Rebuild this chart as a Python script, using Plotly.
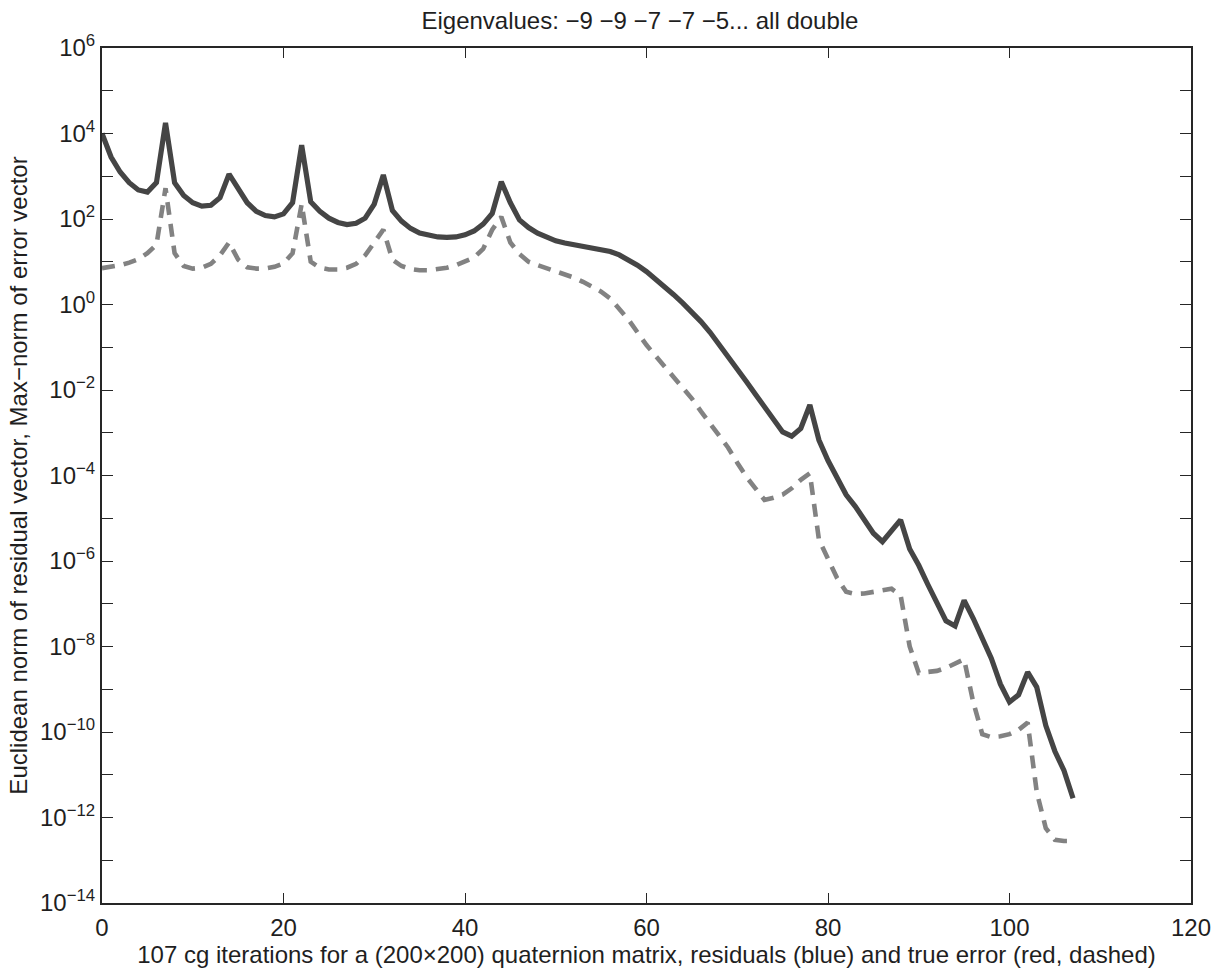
import plotly.graph_objects as go

# Iteration index
iterations = list(range(0, 108))

# log10 of Euclidean norm of residual vector (solid)
residual_log10 = [
    4.0, 3.45, 3.1, 2.85, 2.68, 2.63, 2.85, 4.25, 2.85, 2.55,
    2.38, 2.3, 2.32, 2.5, 3.05, 2.72, 2.38, 2.18, 2.08, 2.05,
    2.12, 2.38, 3.73, 2.4, 2.18, 2.02, 1.92, 1.87, 1.9, 2.02,
    2.35, 3.03, 2.2, 1.95, 1.78, 1.67, 1.61, 1.58, 1.57, 1.58,
    1.63, 1.72, 1.88, 2.13, 2.87, 2.38, 1.98, 1.8, 1.67, 1.57,
    1.49, 1.44, 1.40, 1.36, 1.33, 1.29, 1.24, 1.16, 1.05, 0.92,
    0.77, 0.6, 0.42, 0.23, 0.03, -0.18, -0.4, -0.65, -0.93, -1.2,
    -1.5, -1.8, -2.1, -2.4, -2.7, -2.98, -3.08, -2.9, -2.35, -3.17,
    -3.65, -4.05, -4.45, -4.72, -5.05, -5.35, -5.55, -5.3, -5.04, -5.72,
    -6.1, -6.55, -6.98, -7.4, -7.52, -6.92, -7.34, -7.78, -8.28, -8.88,
    -9.3, -9.13, -8.6, -8.95, -9.85, -10.45, -10.9, -11.55,
]

# log10 of max-norm of true error vector (dashed)
error_log10 = [
    0.85, 0.88, 0.92, 0.98, 1.06, 1.2, 1.4, 2.72, 1.2, 0.9,
    0.84, 0.86, 0.95, 1.15, 1.45, 1.05, 0.87, 0.84, 0.84, 0.88,
    0.96, 1.2, 2.35, 1.0, 0.86, 0.82, 0.82, 0.86, 0.95, 1.15,
    1.45, 1.75, 1.05, 0.9, 0.83, 0.8, 0.8, 0.82, 0.86, 0.92,
    1.0, 1.1, 1.3, 1.75, 2.05, 1.45, 1.18, 1.0, 0.92, 0.85,
    0.78, 0.72, 0.63, 0.53, 0.42, 0.3, 0.14, -0.1, -0.35, -0.65,
    -0.95, -1.2, -1.45, -1.7, -1.95, -2.2, -2.5, -2.78, -3.08, -3.35,
    -3.7, -4.03, -4.3, -4.57, -4.52, -4.45, -4.3, -4.1, -3.95, -5.5,
    -5.95, -6.4, -6.72, -6.77, -6.76, -6.72, -6.7, -6.65, -6.8, -8.0,
    -8.62, -8.6, -8.57, -8.5, -8.4, -8.3, -9.3, -10.05, -10.12, -10.1,
    -10.05, -9.95, -9.78, -11.4, -12.25, -12.52, -12.55, -12.55,
]

residual = [10 ** v for v in residual_log10]
error = [10 ** v for v in error_log10]

y_exponents = list(range(-14, 7))
y_tickvals = [10 ** e for e in y_exponents]
y_ticktext = [("10<sup>%s</sup>" % (str(e).replace("-", "\u2212")) if e % 2 == 0 else "") for e in y_exponents]
x_tickvals = [0, 20, 40, 60, 80, 100, 120]

title_text = "Eigenvalues: \u22129 \u22129 \u22127 \u22127 \u22125... all double"
x_label = "107 cg iterations for a (200\u00d7200) quaternion matrix, residuals (blue) and true error (red, dashed)"
y_label = "Euclidean norm of residual vector, Max\u2212norm of error vector"

FONT = "Liberation Sans, Arial, Helvetica, sans-serif"
AXC = "#262626"
TXT = "#1f1f1f"

fig = go.Figure()
fig.add_trace(go.Scatter(
    x=iterations, y=error, mode="lines",
    line=dict(color="#828282", width=4.6, dash="13px,9px"),
    showlegend=False,
))
fig.add_trace(go.Scatter(
    x=iterations, y=residual, mode="lines",
    line=dict(color="#454545", width=5.2),
    showlegend=False,
))

fig.update_layout(
    width=1220, height=970,
    margin=dict(l=102, r=29, t=48, b=67),
    paper_bgcolor="white", plot_bgcolor="white",
    font=dict(family=FONT, size=24, color=TXT),
    title=dict(text=title_text, xref="paper", x=0.494, xanchor="center",
               yref="container", y=0.979, yanchor="middle",
               font=dict(size=24, family=FONT, color=TXT)),
)
fig.update_xaxes(
    range=[0, 120], tickvals=x_tickvals, ticks="inside", ticklen=10, tickwidth=1.2,
    tickcolor=AXC, showline=True, linecolor=AXC, linewidth=2, mirror="ticks",
    showgrid=False, zeroline=False, tickfont=dict(size=24, color=TXT),
    automargin=False, ticklabelstandoff=2,
    title=dict(text=x_label, standoff=3, font=dict(size=24, color=TXT)),
)
fig.update_yaxes(
    type="log", range=[-14, 6], tickvals=y_tickvals, ticktext=y_ticktext,
    ticks="inside", ticklen=11, tickwidth=1.2, tickcolor=AXC,
    showline=True, linecolor=AXC, linewidth=2, mirror="ticks",
    showgrid=False, zeroline=False, tickfont=dict(size=24, color=TXT),
    automargin=False,
    title=dict(text=y_label, standoff=6, font=dict(size=24, color=TXT)),
)

fig.write_html("out.html")
